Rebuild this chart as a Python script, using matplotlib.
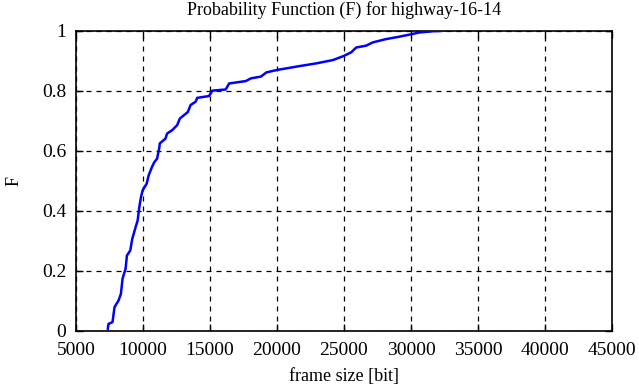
import matplotlib
matplotlib.use("Agg")
import matplotlib.pyplot as plt

frame_size = [7375, 7425, 7725, 7875, 8175, 8350, 8475, 8700, 8800, 9050, 9200, 9450,
              9600, 9725, 9850, 9975, 10275, 10425, 10675, 10850, 11050, 11225, 11250,
              11675, 11800, 12175, 12550, 12750, 13050, 13350, 13550, 13925, 14050,
              14925, 15175, 16175, 16425, 17675, 18050, 18800, 19215, 20000, 21690,
              22930, 24170, 25000, 25540, 25910, 26650, 27150, 28140, 29130, 30000,
              30620, 31610, 32600]
prob_F = [0.006, 0.022, 0.028, 0.078, 0.100, 0.122, 0.173, 0.206, 0.250, 0.267, 0.306,
          0.345, 0.367, 0.412, 0.445, 0.468, 0.490, 0.518, 0.546, 0.562, 0.573, 0.612,
          0.624, 0.640, 0.657, 0.668, 0.685, 0.707, 0.718, 0.729, 0.752, 0.763, 0.776,
          0.782, 0.800, 0.804, 0.824, 0.832, 0.841, 0.847, 0.861, 0.869, 0.882, 0.891,
          0.902, 0.916, 0.928, 0.944, 0.950, 0.961, 0.972, 0.980, 0.988, 0.994, 0.998,
          1.000]
x_ticks = [5000, 10000, 15000, 20000, 25000, 30000, 35000, 40000, 45000]
y_ticks = [0, 0.2, 0.4, 0.6, 0.8, 1]
y_tick_labels = ["0", "0.2", "0.4", "0.6", "0.8", "1"]

plt.rcParams['font.family'] = ['Liberation Serif', 'DejaVu Serif']
fs_tick = 14
fs_lab = 13

fig = plt.figure(figsize=(6.39, 3.87), dpi=100)
ax = fig.add_axes([76/639, 1 - 330.5/387, (612-76)/639, (330.5-30.7)/387])

ax.plot(frame_size, prob_F, color='#0000ff', lw=1.8, zorder=3)

ax.set_xlim(5000, 45000)
ax.set_ylim(0, 1)
ax.set_xticks(x_ticks)
ax.set_xticklabels([str(v) for v in x_ticks], fontsize=fs_tick)
ax.set_yticks(y_ticks)
ax.set_yticklabels(y_tick_labels, fontsize=fs_tick)
ax.tick_params(direction='in', length=5, width=1, top=True, right=True)
ax.tick_params(axis='x', pad=8)
ax.tick_params(axis='y', pad=7)
ax.grid(True, color='black', linestyle=(0, (4, 4)), linewidth=0.9)
for s in ax.spines.values():
    s.set_linewidth(1.2)

ax.set_title("Probability Function (F) for highway-16-14", fontsize=fs_lab, pad=11)
ax.set_xlabel("frame size [bit]", fontsize=fs_lab, labelpad=7)
ax.set_ylabel("F", fontsize=fs_lab, labelpad=14)

fig.savefig("out.png", dpi=100)
